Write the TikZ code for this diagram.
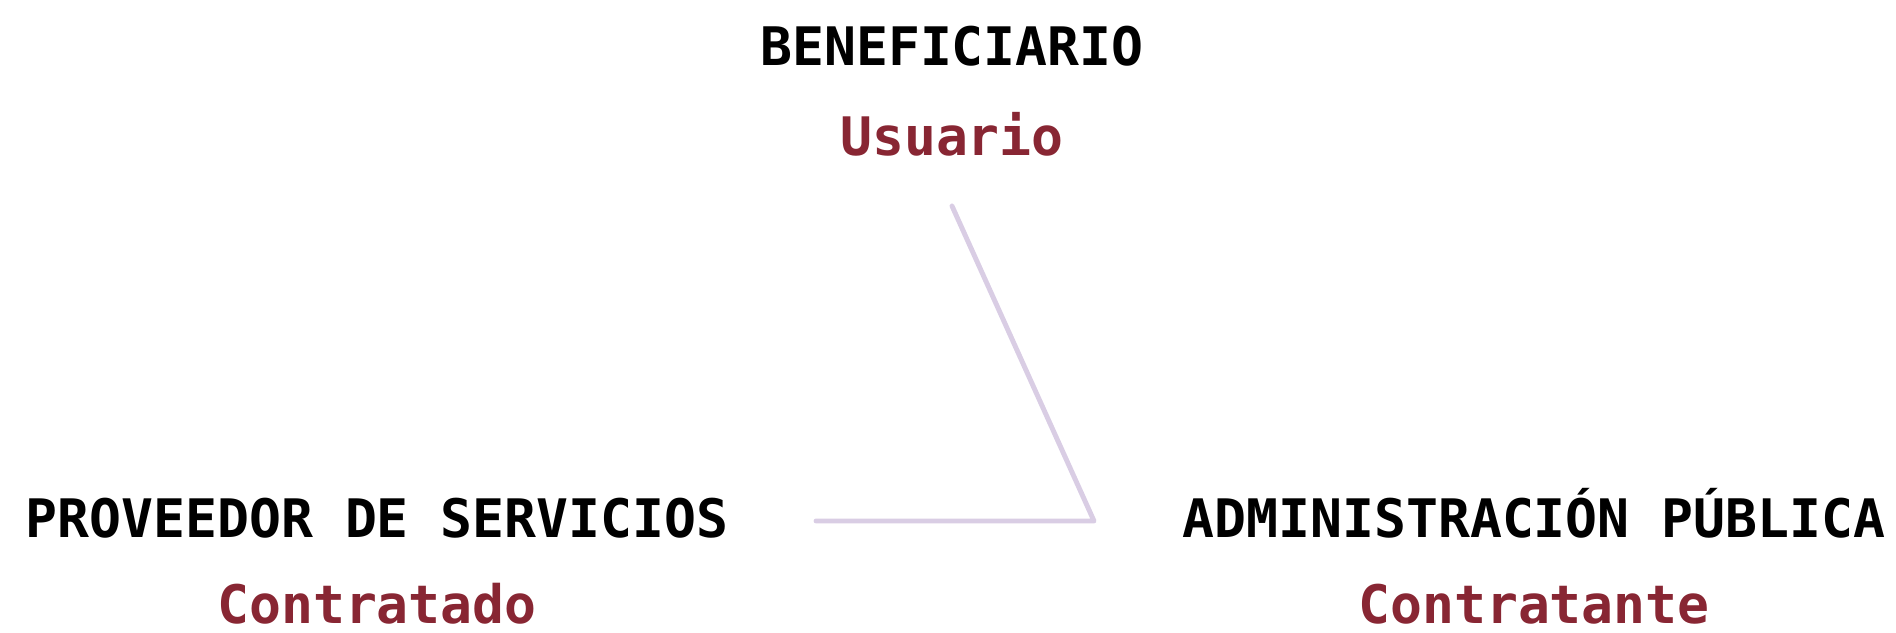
\documentclass[tikz,border=0pt]{standalone}
\usepackage{fontspec}
\setmonofont{DejaVu Sans Mono}
\usepackage{tikz}
\usetikzlibrary{positioning}
\definecolor{clrRole}{HTML}{882633}
\definecolor{clrLink}{HTML}{D9CDE4}
\tikzstyle{actor_style}=[inner sep=0pt, anchor=base, font=\ttfamily\bfseries\fontsize{15.1}{18}\selectfont]
\tikzstyle{actor}=[actor_style, text=black]
\tikzstyle{role}=[actor_style, text=clrRole]
\tikzstyle{link}=[line width=1.4pt, draw=clrLink, line cap=round, line join=round]

\begin{document}
\begin{tikzpicture}
		\useasboundingbox (0,0) rectangle (18.96,6.32) ;

		\node[actor] (ben) at (9.52,5.66) {BENEFICIARIO} ;
		\node[role, below=0.9cm of ben.base, anchor=base] (usr) {Usuario} ;

		\node[actor] (prov) at (3.77,0.94) {PROVEEDOR DE SERVICIOS} ;
		\node[role, below=0.86cm of prov.base, anchor=base] (ctdo) {Contratado} ;

		\node[actor] (adm) at (15.34,0.94) {ADMINISTRACIÓN PÚBLICA} ;
		\node[role, below=0.86cm of adm.base, anchor=base] (ctte) {Contratante} ;

		% open triangle between the three actors
		\coordinate (usrTail) at ([yshift=-5mm]usr.base) ;
		\coordinate (corner) at (10.94,1.11) ;
		\coordinate (provTail) at (8.16,1.11) ;
		\draw[link] (usrTail) -- (corner) -- (provTail) ;

	\end{tikzpicture}
\end{document}
